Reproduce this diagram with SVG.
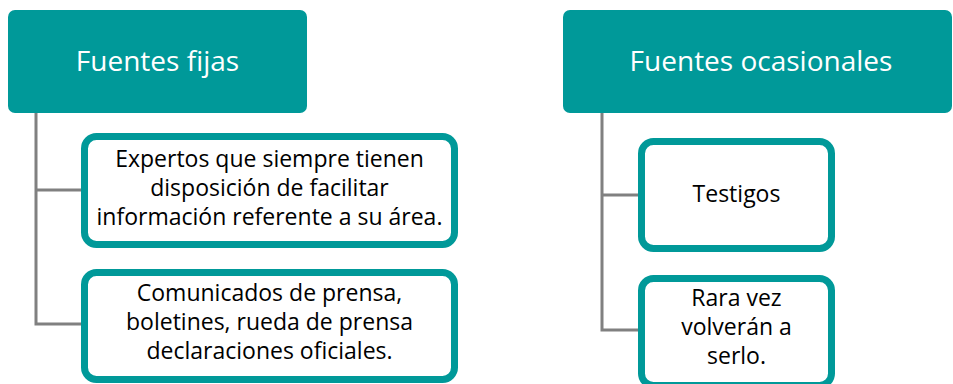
<svg xmlns="http://www.w3.org/2000/svg" width="953" height="384" viewBox="0 0 953 384">
<style>
.hdr{fill:#009999}
.box{fill:#fff;stroke:#009999;stroke-width:7}
.ln{stroke:#808080;stroke-width:3;fill:none}
.ht{font-family:"Open Sans","Noto Sans",sans-serif;font-size:28px;fill:#fff;text-anchor:middle}
.bt{font-family:"Open Sans","Noto Sans",sans-serif;font-size:23px;fill:#000;text-anchor:middle}
</style>
<rect width="953" height="384" fill="#fff"/>
<g id="connectors">
<path class="ln" d="M36,113 V324 H82 M36,190 H82"/>
<path class="ln" d="M602,113 V330 H639 M602,195 H639"/>
</g>
<g id="n1"><rect class="hdr" x="8" y="10" width="299" height="103" rx="7"/><text class="ht" x="157.5" y="71">Fuentes fijas</text></g>
<g id="n2"><rect class="hdr" x="563" y="10" width="389" height="103" rx="7"/><text class="ht" x="761" y="71">Fuentes ocasionales</text></g>
<g id="n3"><rect class="box" x="84.5" y="136.5" width="370" height="108" rx="12"/>
<text class="bt" x="269.5" y="167">Expertos que siempre tienen</text>
<text class="bt" x="269.5" y="196">disposición de facilitar</text>
<text class="bt" x="269.5" y="225">información referente a su área.</text></g>
<g id="n4"><rect class="box" x="84.5" y="272.5" width="370" height="107" rx="12"/>
<text class="bt" x="269.5" y="301">Comunicados de prensa,</text>
<text class="bt" x="269.5" y="330">boletines, rueda de prensa</text>
<text class="bt" x="269.5" y="359">declaraciones oficiales.</text></g>
<g id="n5"><rect class="box" x="641.5" y="141.5" width="190" height="107" rx="12"/>
<text class="bt" x="736.5" y="202">Testigos</text></g>
<g id="n6"><rect class="box" x="641.5" y="278.5" width="190" height="107" rx="12"/>
<text class="bt" x="736.5" y="306">Rara vez</text>
<text class="bt" x="736.5" y="335">volverán a</text>
<text class="bt" x="736.5" y="364">serlo.</text></g>
</svg>
